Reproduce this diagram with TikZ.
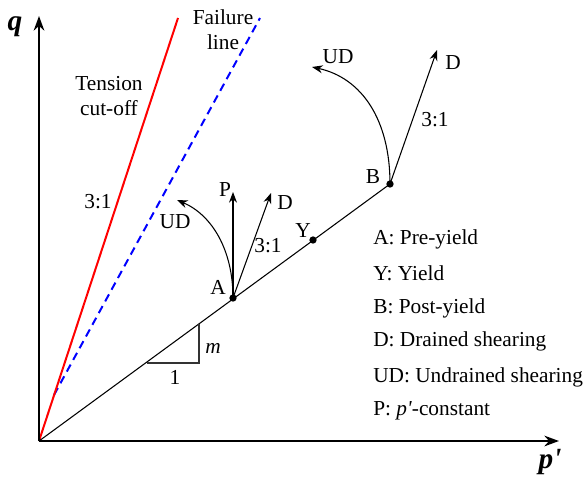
\documentclass[tikz,border=0pt]{standalone}
\usepackage{fontspec}
\setmainfont{Liberation Serif}
\usetikzlibrary{arrows.meta}

\begin{document}
\begin{tikzpicture}[x=0.75pt,y=0.75pt,yscale=-1,xscale=1,
    lbl/.style={inner sep=0.75pt,font=\fontsize{16}{19}\selectfont},
    axlbl/.style={inner sep=0.75pt,font=\fontsize{22}{22}\selectfont\bfseries\itshape},
    axis/.style={line width=1.6pt,-{Stealth[length=11pt,width=8pt]}},
    stress/.style={line width=0.8pt,-{Stealth[length=8pt,width=6pt]}},
    pt/.style={circle,fill,inner sep=0pt,minimum size=5.5pt}]
  \useasboundingbox (0,0) rectangle (584,477);
  % points
  \coordinate (O) at (39,441);
  \coordinate (qend) at (39,16);
  \coordinate (pend) at (559,441);
  \coordinate (tc) at (178,18);
  \coordinate (fs) at (54,395);
  \coordinate (fl) at (260,18);
  \coordinate (t1) at (147,363);
  \coordinate (t2) at (199,363);
  \coordinate (t3) at (199,324);
  \coordinate (tipP) at (233,192);
  \coordinate (tipDa) at (271,193);
  \coordinate (tipUDa) at (177,200);
  \coordinate (tipDb) at (437,50);
  \coordinate (tipUDb) at (312,67);
  % lines
  \draw[blue,line width=1.5pt,dash pattern=on 6pt off 4pt] (fs) -- (fl);
  \draw[red,line width=1.5pt] (O) -- (tc);
  \draw[line width=0.8pt] (O) -- (390,184);
  \draw[line width=0.8pt,black!80] (t1) -- (t2) -- (t3);
  \node[pt] (A) at (233,298) {};
  \node[pt] (Y) at (313,240) {};
  \node[pt] (B) at (390,184) {};
  \draw[axis] (O) -- (qend);
  \draw[axis] (O) -- (pend);
  % stress paths
  \draw[stress] (A.center) -- (tipP);
  \draw[stress] (A.center) -- (tipDa);
  \draw[stress] (A.center) .. controls (233,250) and (212,215) .. (tipUDa);
  \draw[stress] (B.center) -- (tipDb);
  \draw[stress] (B.center) .. controls (390,120) and (362,78) .. (tipUDb);
  % labels
  \node[axlbl] (qlbl) at (15,27) {q};
  \node[axlbl] (plbl) at (550,462) {p\textquotesingle};
  \node[lbl,align=center] (tens) at (109,96) {Tension\\cut-off};
  \node[lbl,align=center] (fail) at (223,30) {Failure\\line};
  \node[lbl] (ratio0) at (98,202) {3:1};
  \node[lbl] (udA) at (175,222) {UD};
  \node[lbl] (pA) at (225,190) {P};
  \node[lbl] (dA) at (285,203) {D};
  \node[lbl] (ratioA) at (268,246) {3:1};
  \node[lbl] (lA) at (218,287) {A};
  \node[lbl] (lY) at (303,231) {Y};
  \node[lbl] (slope) at (213,348) {\textit{m}};
  \node[lbl] (run) at (175,377) {1};
  \node[lbl] (udB) at (338,57) {UD};
  \node[lbl] (dB) at (453,63) {D};
  \node[lbl] (ratioB) at (435,120) {3:1};
  \node[lbl] (lB) at (373,177) {B};
  % legend
  \node[lbl,anchor=base west] (k1) at (372,244) {A: Pre-yield};
  \node[lbl,anchor=base west] (k2) at (372,280) {Y: Yield};
  \node[lbl,anchor=base west] (k3) at (372,313) {B: Post-yield};
  \node[lbl,anchor=base west] (k4) at (372,346) {D: Drained shearing};
  \node[lbl,anchor=base west] (k5) at (372,382) {UD: Undrained shearing};
  \node[lbl,anchor=base west] (k6) at (372,415) {P: \textit{p\textquotesingle}-constant};
\end{tikzpicture}
\end{document}
